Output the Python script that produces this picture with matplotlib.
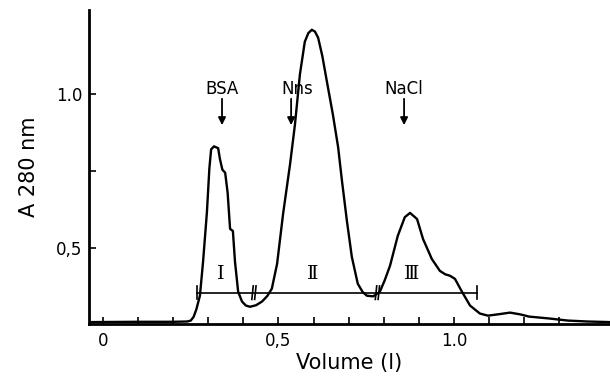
import matplotlib.pyplot as plt

# Elution profile, A280 against eluted volume
volume = [-0.04, 0.10, 0.20, 0.240, 0.250, 0.258, 0.266, 0.276, 0.285, 0.296,
          0.303, 0.308, 0.316, 0.328, 0.333, 0.340, 0.348, 0.355, 0.362, 0.370,
          0.376, 0.385, 0.396, 0.407, 0.419, 0.436, 0.453, 0.468, 0.481, 0.496,
          0.513, 0.533, 0.547, 0.561, 0.575, 0.585, 0.595, 0.604, 0.613, 0.625,
          0.638, 0.655, 0.670, 0.681, 0.695, 0.709, 0.726, 0.740, 0.752, 0.770,
          0.789, 0.803, 0.818, 0.840, 0.860, 0.875, 0.895, 0.912, 0.937, 0.960,
          0.975, 0.989, 1.003, 1.023, 1.046, 1.074, 1.097, 1.130, 1.160, 1.190,
          1.214, 1.270, 1.325, 1.380, 1.445]
a280 = [0.258, 0.259, 0.259, 0.260, 0.263, 0.275, 0.300, 0.344, 0.455, 0.617,
        0.760, 0.821, 0.831, 0.825, 0.790, 0.755, 0.745, 0.680, 0.562, 0.555,
        0.455, 0.357, 0.325, 0.312, 0.308, 0.313, 0.325, 0.343, 0.367, 0.448,
        0.610, 0.773, 0.903, 1.065, 1.172, 1.200, 1.211, 1.205, 1.185, 1.125,
        1.042, 0.935, 0.828, 0.718, 0.588, 0.471, 0.383, 0.356, 0.344, 0.342,
        0.357, 0.395, 0.442, 0.539, 0.600, 0.614, 0.594, 0.529, 0.464, 0.425,
        0.414, 0.409, 0.399, 0.357, 0.312, 0.286, 0.279, 0.284, 0.289, 0.283,
        0.276, 0.270, 0.263, 0.260, 0.258]

# Marker substances and their elution volumes
markers = ["BSA", "Nns", "NaCl"]
marker_pos = [0.339, 0.536, 0.858]
marker_label_x = [0.339, 0.553, 0.858]

# Pooled fractions
fraction_names = ["Ⅰ", "Ⅱ", "Ⅲ"]
fraction_label_x = [0.336, 0.598, 0.880]
fraction_edges = [0.268, 0.430, 0.782, 1.066]
fraction_level = 0.354

x_ticks = [round(0.1 * i, 1) for i in range(14)]
x_ticklabels = ["0" if t == 0 else "0,5" if t == 0.5 else "1.0" if t == 1.0 else ""
                for t in x_ticks]
y_ticks = [0.5, 0.75, 1.0]
y_ticklabels = ["0,5", "", "1.0"]

fig = plt.figure(figsize=(6.1, 3.78), dpi=100)
ax = fig.add_axes([0.146, 0.143, 0.854, 0.831])

ax.plot(volume, a280, color="black", lw=1.7, solid_joinstyle="round")

# fraction bar with end caps and break marks
ax.plot([fraction_edges[0], fraction_edges[-1]], [fraction_level] * 2,
        color="black", lw=1.2)
for xe in (fraction_edges[0], fraction_edges[-1]):
    ax.plot([xe, xe], [fraction_level - 0.022, fraction_level + 0.022],
            color="black", lw=1.2)
for xb in fraction_edges[1:-1]:
    for dx in (-0.004, 0.004):
        ax.plot([xb + dx - 0.002, xb + dx + 0.002],
                [fraction_level - 0.022, fraction_level + 0.022],
                color="black", lw=1.2)

for name, xl in zip(fraction_names, fraction_label_x):
    ax.text(xl, 0.415, name, ha="center", va="center", fontsize=14,
            family=["DejaVu Serif", "DejaVu Sans"])

for name, xa, xl in zip(markers, marker_pos, marker_label_x):
    ax.text(xl, 1.018, name, ha="center", va="center", fontsize=12)
    ax.annotate("", xy=(xa, 0.900), xytext=(xa, 0.986),
                arrowprops=dict(arrowstyle="-|>", color="black", lw=1.3,
                                mutation_scale=11, shrinkA=0, shrinkB=0))

ax.set_xlim(-0.04, 1.445)
ax.set_ylim(0.252, 1.276)
ax.set_xticks(x_ticks)
ax.set_xticklabels(x_ticklabels, fontsize=12)
ax.set_yticks(y_ticks)
ax.set_yticklabels(y_ticklabels, fontsize=12)
ax.tick_params(direction="in", length=5, width=1.2, pad=6)
ax.tick_params(axis="y", pad=5)

for side in ("top", "right"):
    ax.spines[side].set_visible(False)
for side in ("left", "bottom"):
    ax.spines[side].set_linewidth(2)

ax.set_xlabel("Volume (l)", fontsize=15, labelpad=2)
ax.set_ylabel("A 280 nm", fontsize=15, labelpad=12)

fig.savefig("out.png", dpi=100, facecolor="white")
